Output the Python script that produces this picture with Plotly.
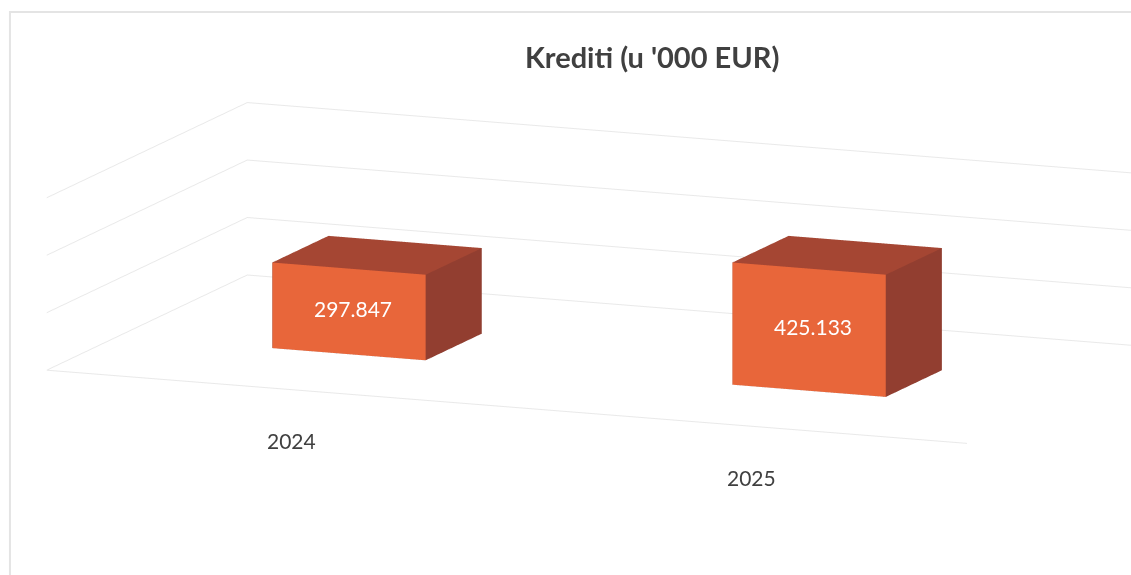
import plotly.graph_objects as go

# ---- data -------------------------------------------------------------
categories = ["2024", "2025"]
values = [297.847, 425.133]
value_labels = ["297.847", "425.133"]
z_ticks = [0, 200, 400, 600]
title_text = "Krediti (u '000 EUR)"

# ---- style ------------------------------------------------------------
FONT = "Lato"
FRONT = "#E8663A"
TOP = "#A54633"
SIDE = "#923E30"
HIDDEN = "#7A3326"
GRID = "#E9E9E9"
TEXT = "#404040"

BAR_WIDTH = 1 / 3          # share of one category slot
DEPTH = (0.36, 0.64)       # share of the floor depth taken by the columns

fig = go.Figure()

# one cuboid per category, faces coloured individually
tri_i = [0, 0, 3, 3, 0, 0, 1, 1, 0, 0, 4, 4]
tri_j = [1, 5, 2, 6, 3, 7, 2, 6, 1, 2, 5, 6]
tri_k = [5, 4, 6, 7, 7, 4, 6, 5, 2, 3, 6, 7]
face_colors = [FRONT, FRONT, HIDDEN, HIDDEN, HIDDEN, HIDDEN,
               SIDE, SIDE, HIDDEN, HIDDEN, TOP, TOP]

for idx, (cat, val) in enumerate(zip(categories, values)):
    xc = idx + 0.5
    x0, x1 = xc - BAR_WIDTH / 2, xc + BAR_WIDTH / 2
    y0, y1 = DEPTH
    fig.add_trace(go.Mesh3d(
        x=[x0, x1, x1, x0, x0, x1, x1, x0],
        y=[y0, y0, y1, y1, y0, y0, y1, y1],
        z=[0, 0, 0, 0, val, val, val, val],
        i=tri_i, j=tri_j, k=tri_k,
        facecolor=face_colors,
        flatshading=True,
        lighting=dict(ambient=1.0, diffuse=0.0, specular=0.0,
                      roughness=1.0, fresnel=0.0),
        hoverinfo="skip", showscale=False, name=cat,
    ))

# front edge of the floor (category axis line)
n_cat = len(categories)
fig.add_trace(go.Scatter3d(
    x=[0, n_cat], y=[0, 0], z=[0, 0], mode="lines",
    line=dict(color=GRID, width=2), hoverinfo="skip", showlegend=False,
))

annotations = []
for idx, (lab, val) in enumerate(zip(value_labels, values)):
    annotations.append(dict(
        x=idx + 0.5, y=DEPTH[0], z=val / 2, text=lab, showarrow=False,
        xshift=4, yshift=3, font=dict(family=FONT, size=21, color="white"),
    ))
for idx, cat in enumerate(categories):
    annotations.append(dict(
        x=idx + 0.5, y=0, z=0, text=cat, showarrow=False,
        xshift=15, yshift=-52, font=dict(family=FONT, size=21, color=TEXT),
    ))

hidden_axis = dict(showgrid=False, showline=False, zeroline=False,
                   showticklabels=False, ticks="", showspikes=False,
                   showbackground=False, title=dict(text=""))

# orthographic view: size comes from the aspect ratio, direction from the eye
center = dict(x=-0.1302, y=-0.0639, z=-0.0496)
eye_dir = (0.3715, -0.9078, 0.1943)
dist = 4.0
eye = dict(x=center["x"] + dist * eye_dir[0],
           y=center["y"] + dist * eye_dir[1],
           z=center["z"] + dist * eye_dir[2])

fig.update_layout(
    width=1131, height=575,
    margin=dict(l=0, r=0, t=0, b=0),
    paper_bgcolor="white",
    showlegend=False,
    title=dict(text="<b>" + title_text + "</b>", x=0.5766, xanchor="center",
               y=0.899, yanchor="middle",
               font=dict(family=FONT, size=29, color=TEXT)),
    scene=dict(
        domain=dict(x=[0, 1], y=[0, 1]),
        bgcolor="white",
        xaxis=dict(range=[0, n_cat], autorange=False, **hidden_axis),
        yaxis=dict(range=[0, 1], autorange=False, **hidden_axis),
        zaxis=dict(range=[z_ticks[0], z_ticks[-1]], autorange=False,
                   tickvals=z_ticks, showgrid=True, gridcolor=GRID,
                   gridwidth=2, showline=False, zeroline=False,
                   showticklabels=False, ticks="", showspikes=False,
                   showbackground=False, title=dict(text="")),
        aspectmode="manual",
        aspectratio=dict(x=3.4585, y=1.8414, z=0.6114),
        camera=dict(projection=dict(type="orthographic"),
                    eye=eye, center=center, up=dict(x=0, y=0, z=1)),
        annotations=annotations,
    ),
)

fig.add_shape(type="rect", xref="paper", yref="paper",
              x0=0.0088, x1=1.02, y0=-0.05, y1=0.979,
              line=dict(color="#E4E4E4", width=2),
              fillcolor="rgba(0,0,0,0)", layer="above")

fig.write_html("out.html", config=dict(displayModeBar=False))
